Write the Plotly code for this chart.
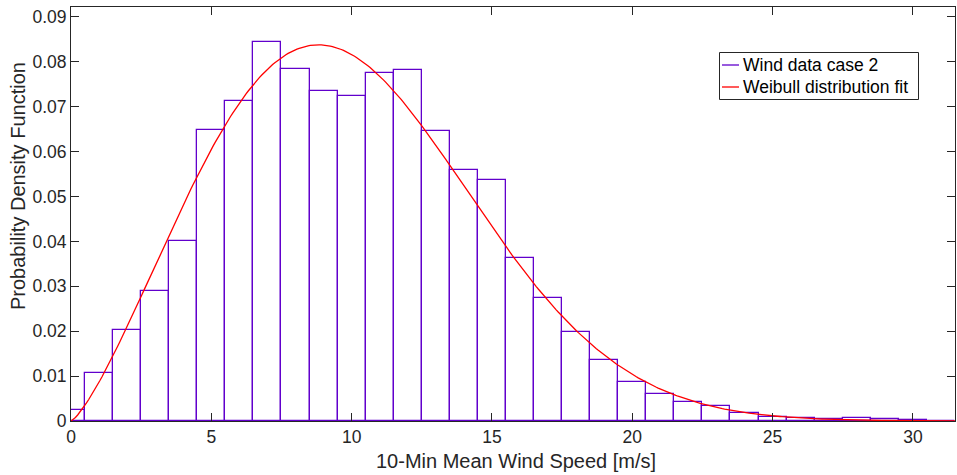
import numpy as np
import plotly.graph_objects as go

# Histogram of 10-minute mean wind speed (1 m/s bins centred on integers)
bin_centers = list(range(0, 32))
pdf_values = [0.0025, 0.0108, 0.0203, 0.0290, 0.0401, 0.0648, 0.0713, 0.0843,
              0.0785, 0.0736, 0.0723, 0.0775, 0.0781, 0.0645, 0.0560, 0.0537,
              0.0364, 0.0275, 0.0198, 0.0135, 0.0087, 0.0061, 0.0043, 0.0033,
              0.0017, 0.0009, 0.0007, 0.0005, 0.0007, 0.0004, 0.0002, 0.0001]

# Fitted Weibull parameters
weibull_shape = 2.3
weibull_scale = 11.3

x_ticks = [0, 5, 10, 15, 20, 25, 30]
y_ticks = [0, 0.01, 0.02, 0.03, 0.04, 0.05, 0.06, 0.07, 0.08, 0.09]
y_tick_text = ["0", "0.01", "0.02", "0.03", "0.04", "0.05", "0.06", "0.07", "0.08", "0.09"]

hist_color = "#6100CC"
fit_color = "#FF0000"
axis_color = "#262626"
font_family = "Liberation Sans, Arial, sans-serif"
tick_size = 17.5
title_size = 20
legend_size = 17.5

ws = np.linspace(0, 31.5, 400)
k, lam = weibull_shape, weibull_scale
fit_pdf = (k / lam) * (ws / lam) ** (k - 1) * np.exp(-(ws / lam) ** k)

fig = go.Figure()
fig.add_trace(go.Bar(
    x=bin_centers, y=pdf_values, width=1,
    marker=dict(color="rgba(0,0,0,0)", line=dict(color=hist_color, width=1.3)),
    name="Wind data case 2", showlegend=False,
))
fig.add_trace(go.Scatter(
    x=ws, y=fit_pdf, mode="lines",
    line=dict(color=fit_color, width=1.3),
    name="Weibull distribution fit", showlegend=False,
))

L, R, T, B = 71, 2, 7, 54
W, H = 957, 475
pw, ph = W - L - R, H - T - B


def px_x(p):
    return (p - L) / pw


def px_y(p):
    return (H - B - p) / ph


# Legend box drawn in paper coordinates
shapes = [
    dict(type="rect", xref="paper", yref="paper",
         x0=px_x(719.5), x1=px_x(918.5), y0=px_y(99.5), y1=px_y(52.5),
         line=dict(color=axis_color, width=1), fillcolor="white", layer="above"),
    dict(type="line", xref="paper", yref="paper",
         x0=px_x(722), x1=px_x(739), y0=px_y(65), y1=px_y(65),
         line=dict(color=hist_color, width=1.3), layer="above"),
    dict(type="line", xref="paper", yref="paper",
         x0=px_x(722), x1=px_x(739), y0=px_y(87), y1=px_y(87),
         line=dict(color=fit_color, width=1.3), layer="above"),
]
annotations = [
    dict(text="Wind data case 2", xref="paper", yref="paper",
         x=px_x(741), y=px_y(65), xanchor="left", yanchor="middle",
         showarrow=False, font=dict(size=legend_size, color="#000000", family=font_family)),
    dict(text="Weibull distribution fit", xref="paper", yref="paper",
         x=px_x(741), y=px_y(87), xanchor="left", yanchor="middle",
         showarrow=False, font=dict(size=legend_size, color="#000000", family=font_family)),
    # Axis titles
    dict(text="10-Min Mean Wind Speed [m/s]", xref="paper", yref="paper",
         x=px_x(516), y=px_y(461), xanchor="center", yanchor="middle",
         showarrow=False, font=dict(size=title_size, color=axis_color, family=font_family)),
    dict(text="Probability Density Function", xref="paper", yref="paper",
         x=px_x(18), y=px_y(186), xanchor="center", yanchor="middle",
         textangle=-90, showarrow=False,
         font=dict(size=title_size, color=axis_color, family=font_family)),
]

fig.update_layout(
    width=W, height=H,
    margin=dict(l=L, r=R, t=T, b=B, pad=0),
    paper_bgcolor="white", plot_bgcolor="white",
    font=dict(family=font_family, size=tick_size, color=axis_color),
    bargap=0,
    shapes=shapes,
    annotations=annotations,
    xaxis=dict(
        range=[0, 31.5], tickvals=x_ticks, ticks="inside", ticklen=8,
        tickcolor=axis_color, showline=True, linecolor=axis_color, linewidth=1,
        mirror="ticks", showgrid=False, zeroline=False,
        tickfont=dict(size=tick_size, color=axis_color),
    ),
    yaxis=dict(
        range=[0, 0.0922], tickvals=y_ticks, ticktext=y_tick_text,
        ticks="inside", ticklen=8,
        tickcolor=axis_color, showline=True, linecolor=axis_color, linewidth=1,
        mirror="ticks", showgrid=False, zeroline=False,
        tickfont=dict(size=tick_size, color=axis_color),
    ),
)

fig.write_html("out.html")
